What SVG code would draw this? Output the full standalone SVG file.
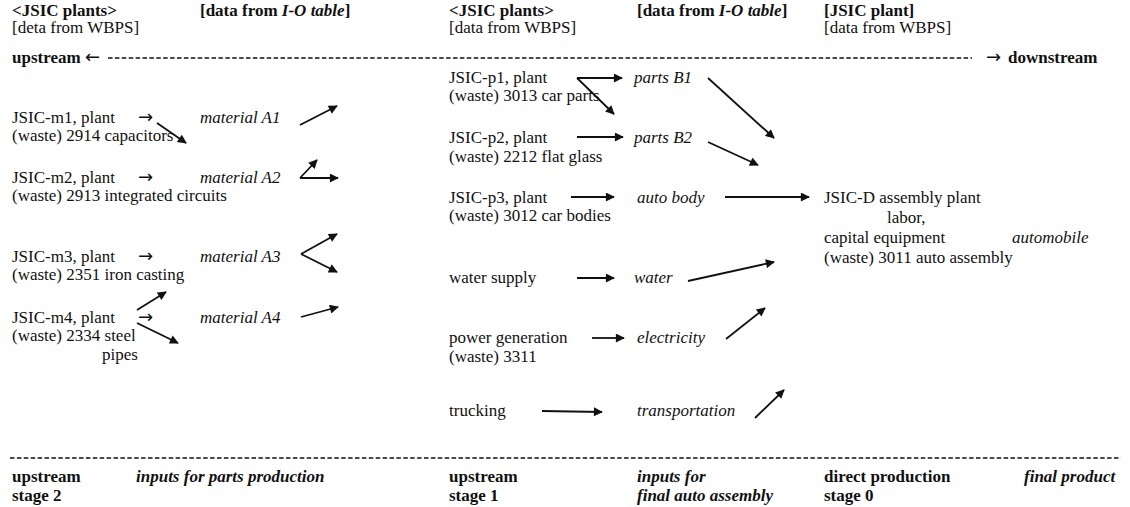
<svg xmlns="http://www.w3.org/2000/svg" width="1130" height="507" viewBox="0 0 1130 507">
<style>
text{font-family:"Liberation Serif","Times New Roman","DejaVu Serif",serif;font-size:17px;fill:#111}
.b{font-weight:bold}
.i{font-style:italic}
.bi{font-weight:bold;font-style:italic}
.ar{font-family:"DejaVu Sans",sans-serif;font-size:18px;font-weight:normal}
.dash{stroke:#111;stroke-width:1.4;stroke-dasharray:4.5 2.4;fill:none}
.c line{stroke:#111;stroke-width:1.8;marker-end:url(#ah)}
</style>
<defs>
<marker id="ah" viewBox="0 0 10 10" refX="9" refY="5" markerWidth="11" markerHeight="9" markerUnits="userSpaceOnUse" orient="auto">
<path d="M0,0 L10,5 L0,10 z" fill="#111"/>
</marker>
</defs>
<rect width="1130" height="507" fill="#fff"/>

<g id="header">
<text x="12" y="16" class="b">&lt;JSIC plants&gt;</text>
<text x="200" y="16" class="b">[data from <tspan class="bi">I-O table</tspan>]</text>
<text x="449" y="16" class="b">&lt;JSIC plants&gt;</text>
<text x="637" y="16" class="b">[data from <tspan class="bi">I-O table</tspan>]</text>
<text x="824" y="16" class="b">[JSIC plant]</text>
<text x="12" y="33">[deta from WBPS]</text>
<text x="449" y="33">[data from WBPS]</text>
<text x="824" y="33">[data from WBPS]</text>
<text x="12" y="63" class="b">upstream <tspan class="ar">←</tspan></text>
<text x="986" y="63" class="b"><tspan class="ar">→</tspan><tspan x="1008">downstream</tspan></text>
<line class="dash" x1="108" y1="58" x2="972" y2="58"/>
</g>

<g id="m1">
<text x="12" y="123">JSIC-m1, plant<tspan x="138" class="ar">→</tspan></text>
<text x="12" y="141">(waste) 2914 capacitors</text>
</g>
<g id="A1"><text x="200" y="123" class="i">material A1</text></g>
<g id="m2">
<text x="12" y="183">JSIC-m2, plant<tspan x="138" class="ar">→</tspan></text>
<text x="12" y="201">(waste) 2913 integrated circuits</text>
</g>
<g id="A2"><text x="200" y="183" class="i">material A2</text></g>
<g id="m3">
<text x="12" y="262">JSIC-m3, plant<tspan x="138" class="ar">→</tspan></text>
<text x="12" y="280">(waste) 2351 iron casting</text>
</g>
<g id="A3"><text x="200" y="262" class="i">material A3</text></g>
<g id="m4">
<text x="12" y="323">JSIC-m4, plant<tspan x="138" class="ar">→</tspan></text>
<text x="12" y="341">(waste) 2334 steel</text>
<text x="102" y="360">pipes</text>
</g>
<g id="A4"><text x="200" y="323" class="i">material A4</text></g>

<g id="p1">
<text x="449" y="83">JSIC-p1, plant</text>
<text x="449" y="101">(waste) 3013 car parts</text>
</g>
<g id="B1"><text x="634" y="83" class="i">parts B1</text></g>
<g id="p2">
<text x="449" y="143">JSIC-p2, plant</text>
<text x="449" y="162">(waste) 2212 flat glass</text>
</g>
<g id="B2"><text x="634" y="143" class="i">parts B2</text></g>
<g id="p3">
<text x="449" y="203">JSIC-p3, plant</text>
<text x="449" y="221">(waste) 3012 car bodies</text>
</g>
<g id="body"><text x="637" y="203" class="i">auto body</text></g>
<g id="watersupply"><text x="449" y="283">water supply</text></g>
<g id="water"><text x="634" y="283" class="i">water</text></g>
<g id="power">
<text x="449" y="343">power generation</text>
<text x="449" y="362">(waste) 3311</text>
</g>
<g id="electricity"><text x="637" y="343" class="i">electricity</text></g>
<g id="trucking"><text x="449" y="416">trucking</text></g>
<g id="transportation"><text x="637" y="416" class="i">transportation</text></g>

<g id="assembly">
<text x="824" y="203">JSIC-D assembly plant</text>
<text x="887" y="223">labor,</text>
<text x="824" y="243">capital equipment</text>
<text x="824" y="263">(waste) 3011 auto assembly</text>
</g>
<g id="automobile"><text x="1012" y="243" class="i">automobile</text></g>

<g id="footer">
<line class="dash" x1="10" y1="458" x2="1121" y2="458"/>
<text x="12" y="482" class="b">upstream</text>
<text x="12" y="501" class="b">stage 2</text>
<text x="136" y="482" class="bi">inputs for parts production</text>
<text x="449" y="482" class="b">upstream</text>
<text x="449" y="501" class="b">stage 1</text>
<text x="637" y="482" class="bi">inputs for</text>
<text x="637" y="501" class="bi">final auto assembly</text>
<text x="824" y="482" class="b">direct production</text>
<text x="824" y="501" class="b">stage 0</text>
<text x="1024" y="482" class="bi">final product</text>
</g>

<g id="connectors" class="c">
<line x1="157" y1="123" x2="186" y2="143"/>
<line x1="300" y1="125" x2="337" y2="106"/>
<line x1="300" y1="178" x2="317" y2="160"/>
<line x1="300" y1="178" x2="338" y2="178"/>
<line x1="301" y1="254" x2="337" y2="234"/>
<line x1="301" y1="254" x2="337" y2="272"/>
<line x1="137" y1="310" x2="166" y2="292"/>
<line x1="137" y1="323" x2="178" y2="343"/>
<line x1="301" y1="317" x2="338" y2="307"/>
<line x1="577" y1="78" x2="622" y2="78"/>
<line x1="577" y1="78" x2="614" y2="114"/>
<line x1="708" y1="78" x2="774" y2="138"/>
<line x1="577" y1="137" x2="623" y2="137"/>
<line x1="708" y1="142" x2="758" y2="165"/>
<line x1="571" y1="197" x2="614" y2="197"/>
<line x1="725" y1="197" x2="809" y2="197"/>
<line x1="577" y1="278" x2="614" y2="278"/>
<line x1="688" y1="281" x2="774" y2="262"/>
<line x1="592" y1="338" x2="624" y2="338"/>
<line x1="726" y1="339" x2="765" y2="308"/>
<line x1="542" y1="411" x2="602" y2="412"/>
<line x1="755" y1="418" x2="784" y2="390"/>
</g>
</svg>
